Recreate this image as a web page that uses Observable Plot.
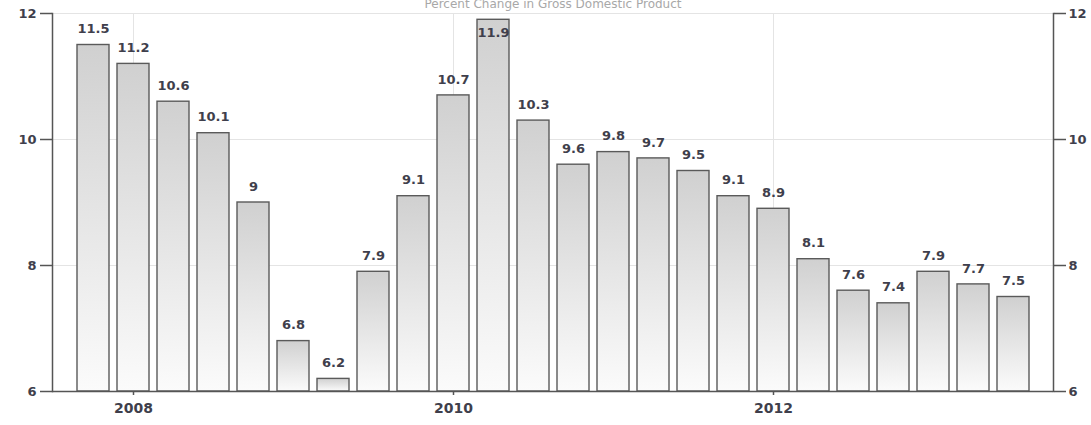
<!DOCTYPE html>
<html>
<head>
<meta charset="utf-8">
<script src="https://cdn.jsdelivr.net/npm/d3@7"></script>
<script src="https://cdn.jsdelivr.net/npm/@observablehq/plot@0.6"></script>
<style>
  html, body { margin: 0; padding: 0; background: #fff; }
  #chart svg { display: block; }
</style>
</head>
<body>
<div id="chart"></div>
<script>
const title = "Percent Change in Gross Domestic Product";
const quarters = [
  "2007Q4",
  "2008Q1", "2008Q2", "2008Q3", "2008Q4",
  "2009Q1", "2009Q2", "2009Q3", "2009Q4",
  "2010Q1", "2010Q2", "2010Q3", "2010Q4",
  "2011Q1", "2011Q2", "2011Q3", "2011Q4",
  "2012Q1", "2012Q2", "2012Q3", "2012Q4",
  "2013Q1", "2013Q2", "2013Q3"
];
const gdpGrowth = [
  11.5,
  11.2, 10.6, 10.1, 9.0,
  6.8, 6.2, 7.9, 9.1,
  10.7, 11.9, 10.3, 9.6,
  9.8, 9.7, 9.5, 9.1,
  8.9, 8.1, 7.6, 7.4,
  7.9, 7.7, 7.5
];
const yearTicks = ["2008Q1", "2010Q1", "2012Q1"];
const yTicks = [6, 8, 10, 12];

const data = quarters.map((q, i) => ({q, v: gdpGrowth[i]}));
const yMin = 6, yMax = 12;

const gradientDefs = () => {
  const ns = "http://www.w3.org/2000/svg";
  const defs = document.createElementNS(ns, "defs");
  defs.innerHTML =
    '<linearGradient id="barGrad" x1="0" y1="0" x2="0" y2="1">' +
    '<stop offset="0" stop-color="#d0d0d0"/>' +
    '<stop offset="1" stop-color="#fbfbfb"/>' +
    '</linearGradient>';
  return defs;
};

const axisColor = "#555555";
const textColor = "#3f3f4c";

const chart = Plot.plot({
  width: 1091,
  height: 425,
  marginLeft: 52,
  marginRight: 38,
  marginTop: 13,
  marginBottom: 34,
  style: {fontFamily: "'DejaVu Sans', sans-serif", background: "#fff"},
  x: {type: "band", domain: quarters, paddingInner: 0.2, paddingOuter: 0.61},
  y: {domain: [yMin, yMax]},
  marks: [
    gradientDefs,
    Plot.gridY([8, 10, 12], {stroke: "#e4e4e4", strokeOpacity: 1}),
    Plot.gridX(yearTicks, {stroke: "#e4e4e4", strokeOpacity: 1}),
    Plot.barY(data, {x: "q", y1: yMin, y2: "v", fill: "url(#barGrad)", stroke: "#5a5a5a", strokeWidth: 1.4}),
    Plot.text(data.filter(d => d.v < 11.7), {x: "q", y: "v", text: d => String(d.v), dy: -16, fill: textColor, fontSize: 13, fontWeight: "bold"}),
    Plot.text(data.filter(d => d.v >= 11.7), {x: "q", y: "v", text: d => String(d.v), dy: 13, fill: textColor, fontSize: 13, fontWeight: "bold"}),
    Plot.frame({anchor: "left", stroke: axisColor, strokeWidth: 1.5}),
    Plot.frame({anchor: "right", stroke: axisColor, strokeWidth: 1.5}),
    Plot.ruleY([yMin], {stroke: axisColor, strokeWidth: 1.5}),
    Plot.axisY({anchor: "left", ticks: yTicks, tickFormat: d => String(d), tickSize: 12, tickPadding: 4, stroke: axisColor, strokeWidth: 1.5, fill: textColor, fontSize: 13, fontWeight: "bold", label: null}),
    Plot.axisY({anchor: "right", ticks: yTicks, tickFormat: d => String(d), tickSize: 12, tickPadding: 3, stroke: axisColor, strokeWidth: 1.5, fill: textColor, fontSize: 13, fontWeight: "bold", label: null}),
    Plot.axisX({ticks: yearTicks, tickFormat: d => d.slice(0, 4), tickSize: 4, tickPadding: 8, stroke: axisColor, strokeWidth: 1.5, fill: textColor, fontSize: 14, fontWeight: "bold", label: null}),
    Plot.text([title], {frameAnchor: "top", dy: -14, fill: "#a8a8a8", fontSize: 12})
  ]
});
document.getElementById("chart").appendChild(chart);
</script>
</body>
</html>
